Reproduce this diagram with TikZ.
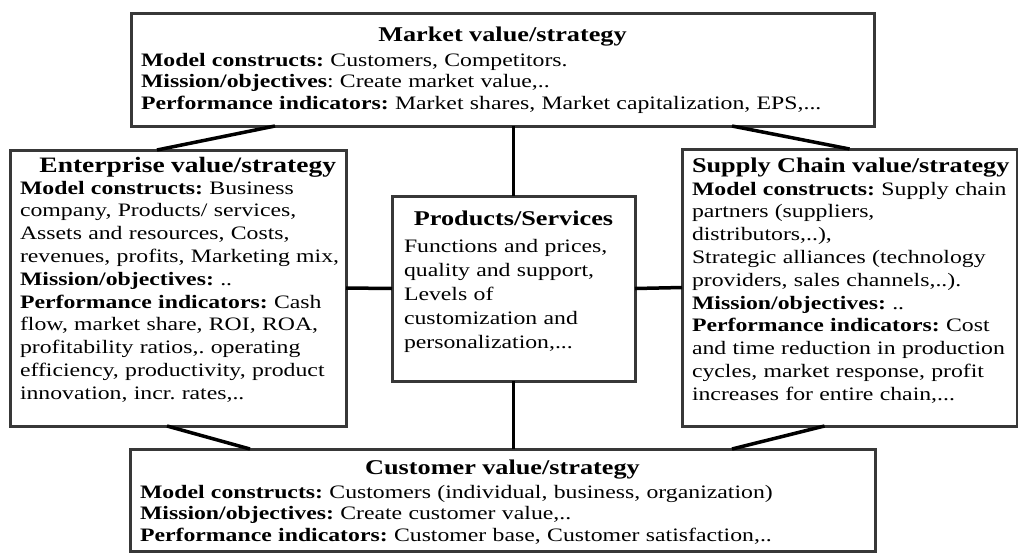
\documentclass[tikz,border=0pt]{standalone}
\usepackage{fontspec}
\setmainfont{Liberation Serif}[FakeStretch=1.25]
\NewDocumentCommand{\boxhead}{O{21} O{c} m}{\makebox[\linewidth][#2]{\fontsize{#1}{#1}\selectfont\bfseries #3}}
\tikzset{
x=1pt, y=-1pt, % one unit is one pixel of the layout, y runs down
valuebox/.style={draw=black!78, line width=3pt, fill=white, rectangle,
  anchor=north west, outer sep=0pt, inner xsep=10pt, inner ysep=0pt,
  align=left, font=\fontsize{19}{22.8}\selectfont\frenchspacing}, % every value/strategy box
link/.style={line width=3.5pt, black}, % the plain joining lines
}
\begin{document}
\begin{tikzpicture}
    \useasboundingbox (0,0) rectangle (1018,558);
    \node[valuebox, text width=723pt, text height=28pt, text depth=85pt,
          font=\fontsize{19}{21.5}\selectfont\frenchspacing] (market) at (131,13) {%
        \boxhead{Market value/strategy}\\[3.5pt]
        \textbf{Model constructs:} Customers, Competitors.\\
        \textbf{Mission/objectives}: Create market value,..\\
        \textbf{Performance indicators:} Market shares, Market capitalization, EPS,...};
    \node[valuebox, text width=316pt, text height=22pt, text depth=254pt] (enterprise) at (10,150) {%
        \boxhead[22][r]{Enterprise value/strategy}\\[-0.8pt]
        \textbf{Model constructs:} Business\\
        company, Products/ services,\\
        Assets and resources, Costs,\\
        \mbox{revenues, profits, Marketing mix,}\\
        \textbf{Mission/objectives:} ..\\
        \textbf{Performance indicators:} Cash\\
        flow, market share, ROI, ROA,\\
        profitability ratios,. operating\\
        \mbox{efficiency, productivity, product}\\
        innovation, incr. rates,..};
    \node[valuebox, inner xsep=12pt, text width=219pt, text height=29pt, text depth=156pt,
          font=\fontsize{19}{24}\selectfont] (products) at (392,196) {%
        \boxhead{Products/Services}\\[3pt]
        Functions and prices,\\
        quality and support,\\
        Levels of\\
        customization and\\
        personalization,...};
    \node[valuebox, text width=315pt, text height=23pt, text depth=254pt] (supply) at (682,149) {%
        \boxhead[21][l]{Supply Chain value/strategy}\\[0.2pt]
        \mbox{\textbf{Model constructs:} Supply chain}\\
        partners (suppliers,\\
        distributors,..),\\
        \mbox{Strategic alliances (technology}\\
        providers, sales channels,..).\\
        \textbf{Mission/objectives:} ..\\
        \textbf{Performance indicators:} Cost\\
        \mbox{and time reduction in production}\\
        cycles, market response, profit\\
        increases for entire chain,...};
    \node[valuebox, text width=725pt, text height=25pt, text depth=77pt,
          font=\fontsize{19}{21.5}\selectfont\frenchspacing] (customer) at (130,449) {%
        \boxhead{Customer value/strategy}\\[2.5pt]
        \textbf{Model constructs:} Customers (individual, business, organization)\\
        \textbf{Mission/objectives:} Create customer value,..\\
        \textbf{Performance indicators:} Customer base, Customer satisfaction,..};
    \draw[link]
        ([xshift=144pt]market.south west) edge ([xshift=147pt]enterprise.north west)
        ([xshift=-142pt]market.south east) edge (supply.north)
        (products.north |- market.south) edge (products.north)
        (enterprise.east) edge (products.west)
        (products.east) edge (supply.west)
        (products.south) edge (products.south |- customer.north)
        ([xshift=-11pt]enterprise.south) edge ([xshift=120pt]customer.north west)
        ([xshift=-25pt]supply.south) edge ([xshift=-143pt]customer.north east)
    ;
\end{tikzpicture}
\end{document}
